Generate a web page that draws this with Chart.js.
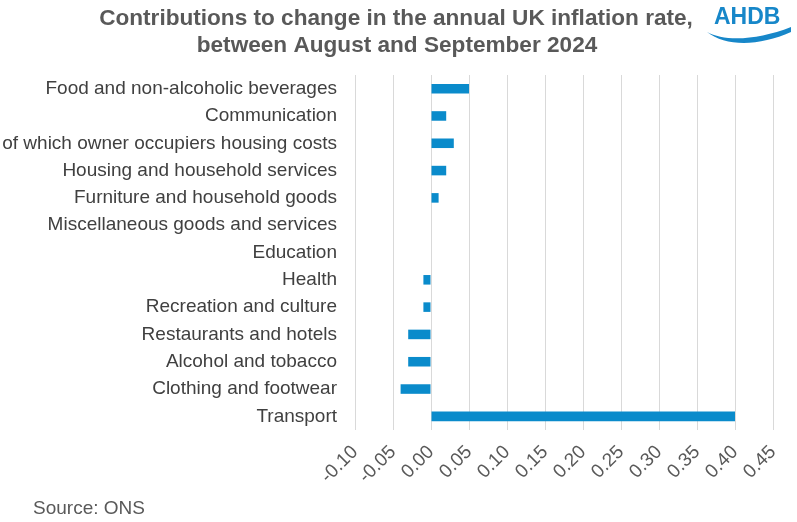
<!DOCTYPE html>
<html lang="en">
<head>
  <meta charset="UTF-8">
  <title>Contributions to change in the annual UK inflation rate</title>
  <script src="https://cdn.jsdelivr.net/npm/chart.js"></script>
  <style>
    html, body { margin: 0; padding: 0; background: #fff; }
    #wrap { width: 797px; height: 522px; position: relative; }
  </style>
</head>
<body>
  <div id="wrap"><canvas id="inflationChart"></canvas></div>

  <script>
    // Data (percentage points)
    const categories = [
      'Food and non-alcoholic beverages',
      'Communication',
      'of which owner occupiers housing costs',
      'Housing and household services',
      'Furniture and household goods',
      'Miscellaneous goods and services',
      'Education',
      'Health',
      'Recreation and culture',
      'Restaurants and hotels',
      'Alcohol and tobacco',
      'Clothing and footwear',
      'Transport'
    ];
    const contributions = [0.05, 0.02, 0.03, 0.02, 0.01, 0, 0, -0.01, -0.01, -0.03, -0.03, -0.04, 0.40];

    const titleLines = [
      'Contributions to change in the annual UK inflation rate,',
      'between August and September 2024'
    ];
    const sourceText = 'Source: ONS';
    const logoText = 'AHDB';

    const xMin = -0.10;
    const xMax = 0.45;
    const xStep = 0.05;

    const FONT = "'Liberation Sans', Arial, sans-serif";

    // Title, source note and AHDB logo drawn on the canvas
    const extrasPlugin = {
      id: 'extras',
      afterDraw(chart) {
        const ctx = chart.ctx;
        ctx.save();
        ctx.textBaseline = 'alphabetic';

        // title (centred on the page, not the plot)
        ctx.fillStyle = '#595959';
        ctx.font = 'bold 22.6px ' + FONT;
        ctx.textAlign = 'center';
        ctx.fillText(titleLines[0], 396, 25);
        ctx.fillText(titleLines[1], 397, 52);

        // source
        ctx.font = '19px ' + FONT;
        ctx.textAlign = 'left';
        ctx.fillText(sourceText, 33, 514);

        // logo
        ctx.fillStyle = '#1787c9';
        ctx.font = 'bold 23px ' + FONT;
        ctx.fillText(logoText, 714, 24);
        ctx.beginPath();
        ctx.moveTo(707, 32);
        ctx.bezierCurveTo(725, 42, 758, 40, 791, 27);
        ctx.lineTo(791, 32);
        ctx.bezierCurveTo(760, 46, 726, 47, 707, 32);
        ctx.closePath();
        ctx.fill();
        ctx.restore();
      }
    };

    const ctx = document.getElementById('inflationChart').getContext('2d');

    const inflationChart = new Chart(ctx, {
      type: 'bar',
      data: {
        labels: categories,
        datasets: [
          {
            label: 'Contribution',
            data: contributions,
            backgroundColor: '#0a8bcb',
            barPercentage: 0.35,
            categoryPercentage: 1.0
          }
        ]
      },
      options: {
        indexAxis: 'y',
        responsive: true,
        maintainAspectRatio: false,
        animation: false,
        layout: {
          padding: { left: 0, right: 24, top: 75, bottom: 0 }
        },
        plugins: {
          legend: { display: false },
          tooltip: { enabled: false },
          title: { display: false }
        },
        scales: {
          x: {
            type: 'linear',
            min: xMin,
            max: xMax,
            grid: { color: '#d9d9d9', drawTicks: false },
            border: { display: false },
            ticks: {
              stepSize: xStep,
              maxRotation: 45,
              minRotation: 45,
              padding: 11,
              color: '#595959',
              font: { family: FONT, size: 19 },
              callback: function (v) { return Number(v).toFixed(2); }
            },
            afterFit: function (scale) {
              scale.height = 92;
              scale.paddingLeft = 0;
              scale.paddingRight = 0;
            }
          },
          y: {
            grid: { display: false, drawTicks: false },
            border: { display: false },
            ticks: {
              padding: 18,
              color: '#404040',
              font: { family: FONT, size: 19 },
              autoSkip: false
            },
            afterFit: function (scale) {
              scale.width = 355;
              scale.paddingTop = 0;
              scale.paddingBottom = 0;
            }
          }
        }
      },
      plugins: [extrasPlugin]
    });
  </script>
</body>
</html>
